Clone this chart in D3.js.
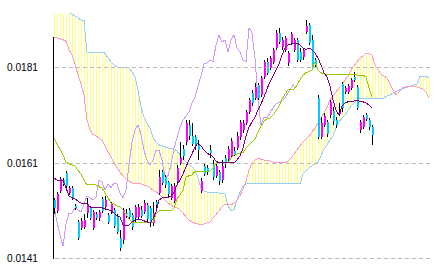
<!DOCTYPE html>
<html><head><meta charset="utf-8">
<script src="https://cdn.jsdelivr.net/npm/d3@7"></script>
<style>html,body{margin:0;padding:0;background:#fff;}svg{display:block;}</style>
</head><body><div id="chart"></div>
<script>
const tickValues = [0.0141, 0.0161, 0.0181];

const open = [0.01531,0.01509,0.01550,0.01573,0.01588,0.01546,0.01557,0.01519,0.01485,0.01473,
0.01475,0.01504,0.01515,0.01473,0.01502,0.01494,0.01534,0.01517,0.01500,0.01506,
0.01511,0.01498,0.01452,0.01448,0.01504,0.01511,0.01500,0.01494,0.01496,0.01511,
0.01506,0.01521,0.01515,0.01483,0.01527,0.01546,0.01590,0.01580,0.01569,0.01536,
0.01529,0.01569,0.01609,0.01638,0.01653,0.01689,0.01666,0.01663,0.01647,0.01550,
0.01603,0.01599,0.01636,0.01607,0.01582,0.01590,0.01573,0.01619,0.01617,0.01624,
0.01634,0.01640,0.01663,0.01678,0.01693,0.01716,0.01756,0.01745,0.01772,0.01751,
0.01789,0.01821,0.01808,0.01821,0.01850,0.01881,0.01852,0.01846,0.01818,0.01860,
0.01846,0.01867,0.01841,0.01831,0.01883,0.01898,0.01867,0.01825,0.01745,0.01663,
0.01689,0.01695,0.01709,0.01718,0.01699,0.01711,0.01774,0.01758,0.01758,0.01766,
0.01789,0.01768,0.01678,0.01684,0.01709,0.01699,0.01684];
const high = [0.01536,0.01548,0.01580,0.01578,0.01592,0.01561,0.01561,0.01523,0.01490,0.01494,
0.01502,0.01536,0.01519,0.01511,0.01506,0.01511,0.01538,0.01540,0.01504,0.01527,
0.01515,0.01502,0.01469,0.01515,0.01513,0.01515,0.01504,0.01521,0.01523,0.01519,
0.01531,0.01525,0.01519,0.01527,0.01531,0.01594,0.01594,0.01584,0.01571,0.01565,
0.01567,0.01605,0.01653,0.01647,0.01699,0.01699,0.01693,0.01668,0.01657,0.01578,
0.01607,0.01605,0.01647,0.01615,0.01609,0.01594,0.01615,0.01626,0.01645,0.01661,
0.01643,0.01674,0.01699,0.01699,0.01720,0.01745,0.01762,0.01776,0.01776,0.01791,
0.01825,0.01829,0.01833,0.01850,0.01887,0.01892,0.01873,0.01875,0.01844,0.01883,
0.01871,0.01871,0.01850,0.01850,0.01908,0.01902,0.01877,0.01829,0.01751,0.01705,
0.01714,0.01699,0.01741,0.01726,0.01705,0.01735,0.01779,0.01770,0.01774,0.01787,
0.01800,0.01772,0.01699,0.01709,0.01714,0.01703,0.01689];
const low = [0.01502,0.01504,0.01546,0.01561,0.01557,0.01542,0.01531,0.01511,0.01448,0.01469,
0.01471,0.01494,0.01490,0.01469,0.01490,0.01488,0.01504,0.01511,0.01481,0.01502,
0.01473,0.01460,0.01424,0.01439,0.01494,0.01492,0.01469,0.01485,0.01492,0.01494,
0.01502,0.01485,0.01475,0.01477,0.01515,0.01542,0.01563,0.01557,0.01538,0.01531,
0.01525,0.01565,0.01605,0.01615,0.01647,0.01657,0.01645,0.01636,0.01615,0.01546,
0.01582,0.01584,0.01619,0.01573,0.01578,0.01563,0.01567,0.01599,0.01613,0.01619,
0.01624,0.01636,0.01657,0.01672,0.01689,0.01712,0.01728,0.01741,0.01741,0.01747,
0.01785,0.01793,0.01804,0.01816,0.01846,0.01858,0.01846,0.01841,0.01812,0.01856,
0.01841,0.01821,0.01821,0.01825,0.01879,0.01856,0.01804,0.01810,0.01659,0.01659,
0.01684,0.01663,0.01703,0.01689,0.01682,0.01707,0.01716,0.01753,0.01753,0.01762,
0.01779,0.01720,0.01672,0.01680,0.01697,0.01678,0.01647];
const close = [0.01515,0.01544,0.01575,0.01565,0.01561,0.01557,0.01536,0.01515,0.01452,0.01488,
0.01490,0.01523,0.01494,0.01506,0.01494,0.01506,0.01509,0.01531,0.01485,0.01523,
0.01477,0.01464,0.01431,0.01511,0.01502,0.01496,0.01475,0.01517,0.01517,0.01498,
0.01525,0.01492,0.01483,0.01504,0.01521,0.01580,0.01567,0.01563,0.01544,0.01561,
0.01561,0.01599,0.01619,0.01624,0.01693,0.01666,0.01649,0.01647,0.01636,0.01571,
0.01586,0.01590,0.01630,0.01580,0.01603,0.01571,0.01603,0.01609,0.01638,0.01655,
0.01628,0.01666,0.01695,0.01693,0.01716,0.01741,0.01735,0.01768,0.01745,0.01787,
0.01821,0.01798,0.01829,0.01846,0.01881,0.01862,0.01867,0.01871,0.01839,0.01879,
0.01867,0.01825,0.01825,0.01846,0.01896,0.01860,0.01808,0.01814,0.01663,0.01693,
0.01707,0.01670,0.01737,0.01697,0.01689,0.01716,0.01724,0.01766,0.01770,0.01783,
0.01783,0.01724,0.01695,0.01705,0.01701,0.01684,0.01668];

const tenkan = [0.01578,0.01573,0.01573,0.01573,0.01557,0.01540,0.01536,0.01534,0.01529,0.01525,
0.01525,0.01523,0.01517,0.01515,0.01515,0.01515,0.01515,0.01513,0.01511,0.01509,
0.01504,0.01498,0.01496,0.01479,0.01479,0.01479,0.01485,0.01490,0.01490,0.01490,
0.01488,0.01485,0.01483,0.01492,0.01506,0.01531,0.01536,0.01536,0.01536,0.01540,
0.01548,0.01563,0.01573,0.01586,0.01601,0.01615,0.01628,0.01643,0.01651,0.01645,
0.01636,0.01630,0.01626,0.01622,0.01613,0.01609,0.01611,0.01611,0.01609,0.01609,
0.01609,0.01615,0.01624,0.01640,0.01666,0.01684,0.01695,0.01705,0.01720,0.01733,
0.01747,0.01764,0.01779,0.01791,0.01804,0.01816,0.01835,0.01850,0.01856,0.01858,
0.01860,0.01860,0.01856,0.01850,0.01846,0.01850,0.01846,0.01839,0.01829,0.01814,
0.01798,0.01789,0.01770,0.01741,0.01720,0.01709,0.01728,0.01735,0.01737,0.01737,
0.01739,0.01741,0.01737,0.01737,0.01735,0.01730,0.01724];

const kijun = [0.01661,0.01649,0.01638,0.01626,0.01611,0.01607,0.01605,0.01603,0.01594,0.01586,
0.01573,0.01563,0.01563,0.01563,0.01563,0.01559,0.01557,0.01546,0.01536,0.01525,
0.01523,0.01519,0.01517,0.01511,0.01502,0.01492,0.01485,0.01485,0.01485,0.01485,
0.01485,0.01485,0.01485,0.01485,0.01502,0.01509,0.01509,0.01509,0.01509,0.01509,
0.01515,0.01534,0.01542,0.01552,0.01580,0.01582,0.01584,0.01592,0.01592,0.01592,
0.01592,0.01592,0.01592,0.01599,0.01609,0.01609,0.01611,0.01611,0.01611,0.01619,
0.01626,0.01628,0.01630,0.01630,0.01640,0.01647,0.01653,0.01659,0.01674,0.01686,
0.01697,0.01701,0.01703,0.01709,0.01718,0.01728,0.01743,0.01753,0.01762,0.01762,
0.01764,0.01772,0.01783,0.01793,0.01798,0.01800,0.01804,0.01821,0.01804,0.01798,
0.01795,0.01795,0.01795,0.01795,0.01795,0.01795,0.01795,0.01795,0.01795,0.01795,
0.01795,0.01793,0.01793,0.01793,0.01789,0.01766,0.01747];

const spanA = [0.01873,0.01871,0.01869,0.01867,0.01864,0.01846,0.01835,0.01816,0.01793,0.01774,
0.01751,0.01699,0.01678,0.01668,0.01666,0.01661,0.01657,0.01645,0.01632,0.01622,
0.01609,0.01599,0.01590,0.01582,0.01575,0.01571,0.01567,0.01567,0.01565,0.01565,
0.01563,0.01561,0.01557,0.01552,0.01548,0.01544,0.01538,0.01531,0.01525,0.01521,
0.01517,0.01515,0.01511,0.01504,0.01496,0.01490,0.01485,0.01483,0.01481,0.01481,
0.01481,0.01483,0.01485,0.01494,0.01500,0.01509,0.01517,0.01523,0.01521,0.01521,
0.01525,0.01531,0.01540,0.01555,0.01571,0.01594,0.01609,0.01615,0.01619,0.01617,
0.01615,0.01615,0.01613,0.01611,0.01611,0.01609,0.01609,0.01609,0.01613,0.01619,
0.01628,0.01636,0.01645,0.01653,0.01659,0.01666,0.01674,0.01682,0.01693,0.01703,
0.01714,0.01726,0.01741,0.01749,0.01758,0.01766,0.01772,0.01783,0.01791,0.01804,
0.01812,0.01821,0.01829,0.01833,0.01839,0.01839,0.01835,0.01814,0.01804,0.01795,
0.01791,0.01787,0.01774,0.01762,0.01751,0.01758,0.01766,0.01768,0.01770,0.01770,
0.01770,0.01768,0.01766,0.01764,0.01758,0.01745];

const spanB = [0.01950,0.01950,0.01946,0.01940,0.01934,0.01925,0.01921,0.01917,0.01913,0.01908,
0.01908,0.01841,0.01841,0.01841,0.01841,0.01841,0.01841,0.01839,0.01829,0.01821,
0.01814,0.01810,0.01810,0.01810,0.01810,0.01808,0.01800,0.01789,0.01762,0.01726,
0.01705,0.01693,0.01682,0.01663,0.01653,0.01647,0.01645,0.01643,0.01640,0.01640,
0.01638,0.01634,0.01626,0.01617,0.01611,0.01607,0.01601,0.01594,0.01578,0.01557,
0.01550,0.01548,0.01548,0.01548,0.01548,0.01546,0.01546,0.01544,0.01519,0.01509,
0.01511,0.01531,0.01548,0.01561,0.01565,0.01565,0.01565,0.01565,0.01565,0.01565,
0.01565,0.01565,0.01565,0.01565,0.01565,0.01565,0.01565,0.01565,0.01565,0.01565,
0.01565,0.01565,0.01565,0.01586,0.01592,0.01599,0.01603,0.01607,0.01611,0.01624,
0.01638,0.01647,0.01657,0.01666,0.01682,0.01695,0.01703,0.01709,0.01720,0.01728,
0.01735,0.01741,0.01745,0.01745,0.01745,0.01745,0.01745,0.01745,0.01745,0.01745,
0.01745,0.01749,0.01751,0.01756,0.01758,0.01762,0.01764,0.01766,0.01768,0.01770,
0.01772,0.01774,0.01791,0.01791,0.01791,0.01787];

const chikou = [0.01519,0.01485,0.01458,0.01435,0.01481,0.01504,0.01504,0.01515,0.01511,0.01506,
0.01523,0.01540,0.01536,0.01531,0.01538,0.01573,0.01569,0.01552,0.01565,0.01557,
0.01567,0.01565,0.01546,0.01536,0.01552,0.01605,0.01653,0.01678,0.01689,0.01668,
0.01636,0.01615,0.01605,0.01615,0.01636,0.01636,0.01615,0.01580,0.01582,0.01605,
0.01640,0.01661,0.01684,0.01699,0.01707,0.01716,0.01735,0.01747,0.01770,0.01791,
0.01816,0.01818,0.01825,0.01821,0.01856,0.01877,0.01862,0.01867,0.01841,0.01867,
0.01877,0.01850,0.01841,0.01825,0.01821,0.01892,0.01881,0.01829,0.01741,0.01689,
0.01705,0.01703,0.01714,0.01724,0.01733,0.01735,0.01739,0.01745,0.01756,0.01766,
0.01774];

const W = 435, H = 272;
const svg = d3.select("#chart").append("svg").attr("width", W).attr("height", H)
  .style("font-family", "'Liberation Sans', Arial, sans-serif");
svg.append("rect").attr("width", W).attr("height", H).attr("fill", "#fff");

const x = d3.scaleLinear().domain([0, 125]).range([54, 429]);
const y = d3.scaleLinear().domain([0.0141, 0.0181]).range([258, 67]);

const defs = svg.append("defs");
defs.append("clipPath").attr("id", "plot").append("rect")
  .attr("x", 53).attr("y", 13).attr("width", 377).attr("height", 250);

const plot = svg.append("g").attr("clip-path", "url(#plot)");

// cloud: one vertical hatch line per bar between the two spans
const cloudG = plot.append("g").attr("shape-rendering", "crispEdges");
spanA.forEach((a, i) => {
  const b = spanB[i];
  const px = Math.round(x(i));
  const y0 = Math.round(y(Math.max(a, b))), y1 = Math.round(y(Math.min(a, b)));
  cloudG.append("rect").attr("x", px).attr("y", y0).attr("width", 1).attr("height", Math.max(0, y1 - y0))
    .attr("fill", "#ffff80");
});

// grid
tickValues.forEach(v => {
  svg.append("line").attr("x1", 55).attr("x2", 430)
    .attr("y1", Math.round(y(v)) + 0.5).attr("y2", Math.round(y(v)) + 0.5)
    .attr("stroke", "#bbbbbb").attr("stroke-dasharray", "4,3").attr("shape-rendering", "crispEdges");
});

const line = arr => d3.line().x((d, i) => x(i)).y(d => y(d))(arr);
function drawLine(arr, color) {
  plot.append("path").attr("d", line(arr)).attr("fill", "none")
    .attr("stroke", color).attr("stroke-width", 1).attr("shape-rendering", "crispEdges");
}
drawLine(spanB, "#99ccff");
drawLine(spanA, "#ff99cc");
drawLine(chikou, "#cc99ff");

// candles
const cg = plot.append("g").attr("shape-rendering", "crispEdges");
open.forEach((o, i) => {
  const c = close[i];
  const cx = Math.round(x(i));
  cg.append("line").attr("x1", cx + 0.5).attr("x2", cx + 0.5)
    .attr("y1", y(high[i])).attr("y2", y(low[i])).attr("stroke", "#000");
  const top = y(Math.max(o, c)), bot = y(Math.min(o, c));
  cg.append("rect").attr("x", cx).attr("width", 2)
    .attr("y", top).attr("height", Math.max(1, bot - top))
    .attr("fill", c >= o ? "#ff00ff" : "#00ccff");
});

drawLine(kijun, "#99cc00");
drawLine(tenkan, "#800080");

// axis
svg.append("line").attr("x1", 53.5).attr("x2", 53.5).attr("y1", 37).attr("y2", 259)
  .attr("stroke", "#000").attr("shape-rendering", "crispEdges");
tickValues.forEach(v => {
  svg.append("text").attr("x", 7).attr("y", y(v)).attr("dy", "0.36em")
    .attr("text-anchor", "start").attr("font-size", 11.5).attr("fill", "#000")
    .attr("textLength", 31).attr("lengthAdjust", "spacingAndGlyphs")
    .text(d3.format(".4f")(v));
});
</script></body></html>
